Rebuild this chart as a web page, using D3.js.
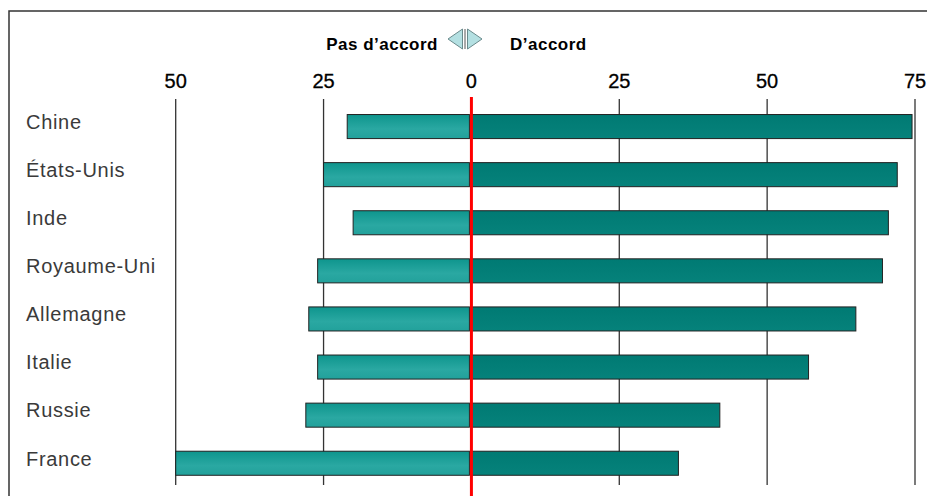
<!DOCTYPE html>
<html>
<head>
<meta charset="utf-8">
<script src="https://cdn.jsdelivr.net/npm/d3@7"></script>
<style>
  body { margin: 0; background: #fff; }
  svg { display: block; }
</style>
</head>
<body>
<svg id="chart" width="927" height="496"></svg>
<script>
const countries = ["Chine", "États-Unis", "Inde", "Royaume-Uni", "Allemagne", "Italie", "Russie", "France"];
const disagree = [21, 25, 20, 26, 27.5, 26, 28, 50];
const agree = [74.5, 72, 70.5, 69.5, 65, 57, 42, 35];
const tickValues = [-50, -25, 0, 25, 50, 75];
const legendLeft = "Pas d’accord";
const legendRight = "D’accord";

const svg = d3.select("#chart");
const W = 927, H = 496;

const x = d3.scaleLinear().domain([-50, 75]).range([175.7, 915]);
const y = d3.scaleBand().domain(countries).range([102.5, 487.3])
    .paddingInner(0.5).paddingOuter(0.25);

// gradients
const defs = svg.append("defs");
const gLeft = defs.append("linearGradient").attr("id", "gLeft")
    .attr("x1", 0).attr("y1", 0).attr("x2", 0).attr("y2", 1);
gLeft.append("stop").attr("offset", "0%").attr("stop-color", "#0e958d");
gLeft.append("stop").attr("offset", "60%").attr("stop-color", "#2aa8a2");
gLeft.append("stop").attr("offset", "100%").attr("stop-color", "#22a19b");
const gRight = defs.append("linearGradient").attr("id", "gRight")
    .attr("x1", 0).attr("y1", 0).attr("x2", 0).attr("y2", 1);
gRight.append("stop").attr("offset", "0%").attr("stop-color", "#007a73");
gRight.append("stop").attr("offset", "100%").attr("stop-color", "#06827b");

// frame
svg.append("path")
    .attr("d", `M9,${H} L9,11 L${W},11`)
    .attr("fill", "none").attr("stroke", "#333").attr("stroke-width", 1.5);

// grid lines
svg.append("g").selectAll("line")
    .data(tickValues.filter(d => d !== 0))
    .join("line")
    .attr("x1", d => x(d)).attr("x2", d => x(d))
    .attr("y1", 99).attr("y2", 485)
    .attr("stroke", "#333").attr("stroke-width", 1.3);

// tick labels
svg.append("g").selectAll("text")
    .data(tickValues)
    .join("text")
    .attr("x", d => x(d)).attr("y", 88)
    .attr("text-anchor", "middle")
    .attr("font-family", "Liberation Sans, Arial, sans-serif")
    .attr("font-size", 20)
    .attr("fill", "#000").attr("stroke", "#000").attr("stroke-width", 0.3)
    .text(d => Math.abs(d));

// bars
const rows = svg.append("g").selectAll("g")
    .data(countries)
    .join("g");

rows.append("rect")
    .attr("x", (d, i) => x(-disagree[i]))
    .attr("y", d => y(d))
    .attr("width", (d, i) => x(0) - 2 - x(-disagree[i]))
    .attr("height", y.bandwidth())
    .attr("fill", "url(#gLeft)")
    .attr("stroke", "#222").attr("stroke-width", 1);

rows.append("rect")
    .attr("x", x(0))
    .attr("y", d => y(d))
    .attr("width", (d, i) => x(agree[i]) - x(0))
    .attr("height", y.bandwidth())
    .attr("fill", "url(#gRight)")
    .attr("stroke", "#222").attr("stroke-width", 1);

// category labels
svg.append("g").selectAll("text")
    .data(countries)
    .join("text")
    .attr("x", 26)
    .attr("y", d => y(d) + y.bandwidth() / 2 - 3)
    .attr("dominant-baseline", "middle")
    .attr("font-family", "Liberation Sans, Arial, sans-serif")
    .attr("font-size", 20)
    .attr("letter-spacing", 0.7)
    .attr("fill", "#3a3a3a")
    .text(d => d);

// zero line
svg.append("line")
    .attr("x1", x(0)).attr("x2", x(0))
    .attr("y1", 97).attr("y2", H)
    .attr("stroke", "#f00").attr("stroke-width", 3);

// legend header
const lg = svg.append("g");
lg.append("text")
    .attr("x", 438).attr("y", 50)
    .attr("text-anchor", "end")
    .attr("font-family", "Liberation Sans, Arial, sans-serif")
    .attr("font-weight", "bold").attr("font-size", 17)
    .attr("letter-spacing", 0.5)
    .text(legendLeft);
lg.append("text")
    .attr("x", 510).attr("y", 50)
    .attr("font-family", "Liberation Sans, Arial, sans-serif")
    .attr("font-weight", "bold").attr("font-size", 17)
    .attr("letter-spacing", 0.5)
    .text(legendRight);
lg.append("path")
    .attr("d", "M448,39 L462.5,29 L462.5,49 Z")
    .attr("fill", "#b4e0e2").attr("stroke", "#6a8a8c").attr("stroke-width", 1);
lg.append("path")
    .attr("d", "M482,39 L467.5,29 L467.5,49 Z")
    .attr("fill", "#b4e0e2").attr("stroke", "#6a8a8c").attr("stroke-width", 1);
lg.append("line")
    .attr("x1", 465).attr("x2", 465).attr("y1", 29).attr("y2", 49)
    .attr("stroke", "#555").attr("stroke-width", 1);
</script>
</body>
</html>
